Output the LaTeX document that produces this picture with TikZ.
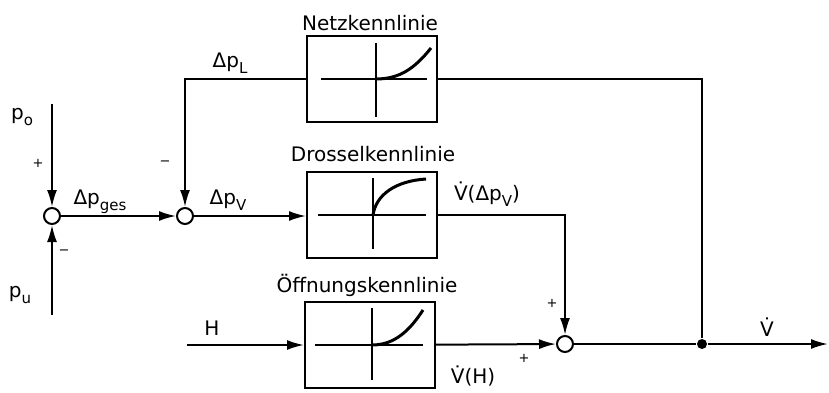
\documentclass[tikz,border=0pt]{standalone}
\usepackage{fontspec}
\setmainfont{DejaVu Sans}
\usetikzlibrary{arrows.meta}

\newcommand{\idx}[1]{\raisebox{-0.55ex}{\fontsize{15}{15}\selectfont #1}}

\begin{document}
\begin{tikzpicture}[x=1pt, y=-1pt, line width=2pt,
    font=\fontsize{20}{22}\selectfont,
    block/.style={draw, minimum width=130pt, minimum height=86pt, inner sep=0pt},
    summe/.style={draw, circle, minimum size=16pt, inner sep=0pt, fill=white},
    pfeil/.style={-{Latex[length=17pt,width=10pt]}},
    kurve/.style={line width=3pt},
    zeichen/.style={font=\fontsize{13}{13}\selectfont}]
    \useasboundingbox (0,0) rectangle (829,393);

    \node[summe] (s1) at (52,216) {};
    \node[summe] (s2) at (185,216) {};
    \node[summe] (s3) at (565,344) {};
    \node[block] (netz) at (372,79) {};
    \node[block] (drossel) at (372,215) {};
    \node[block] (oeff) at (370,345) {};
    \node[circle, fill, inner sep=0pt, minimum size=10pt] (knoten) at (702,344) {};
    \coordinate (po) at (52,104);
    \coordinate (pu) at (52,315);
    \coordinate (h) at (187,345);
    \coordinate (aus) at (828,344);

    % kennlinien
    \draw (321,79) -- (427,79);
    \draw (376,43) -- (376,117);
    \draw[kurve] (376,79) .. controls (400,79) and (415,68) .. (431,48);
    \draw (318,215) -- (426,215);
    \draw (373,178) -- (373,249);
    \draw[kurve] (373,215) .. controls (376,195) and (395,181) .. (426,179);
    \draw (315,345) -- (423,345);
    \draw (372,308) -- (372,380);
    \draw[kurve] (372,345) .. controls (395,345) and (410,330) .. (423,310);

    % signale
    \draw[pfeil] (po) -- (s1);
    \draw[pfeil] (pu) -- (s1);
    \draw[pfeil] (s1) -- (s2);
    \draw[pfeil] (s2) -- (s2 -| drossel.west);
    \draw[pfeil] (drossel) -| (s3);
    \draw[pfeil] (h) -- (h -| oeff.west);
    \draw[pfeil] (oeff) -- (s3);
    \draw (s3) -- (knoten);
    \draw[pfeil] (knoten) -- (aus);
    \draw (knoten) |- (netz.east);
    \draw[pfeil] (netz.west) -| (s2); % rueckfuehrung

    \draw (22,117) node {p\idx{o}};
    \draw (20,295) node {p\idx{u}};
    \draw (100,202) node {Δp\idx{ges}};
    \draw (230,63) node {Δp\idx{L}};
    \draw (228,200) node {Δp\idx{V}};
    \draw (212,328) node {H};
    \draw (370,23) node {Netzkennlinie};
    \draw (373,154) node {Drosselkennlinie};
    \draw (367,285) node {Öffnungskennlinie};
    \draw (487,194) node {\.{V}(Δp\idx{V})};
    \draw (473,376) node {\.{V}(H)};
    \draw (767,327) node {\.{V}};
    \draw[zeichen] (38,163) node {+};
    \draw[zeichen] (64,252) node {−};
    \draw[zeichen] (165,163) node {−};
    \draw[zeichen] (552,303) node {+};
    \draw[zeichen] (524,358) node {+};
\end{tikzpicture}
\end{document}
